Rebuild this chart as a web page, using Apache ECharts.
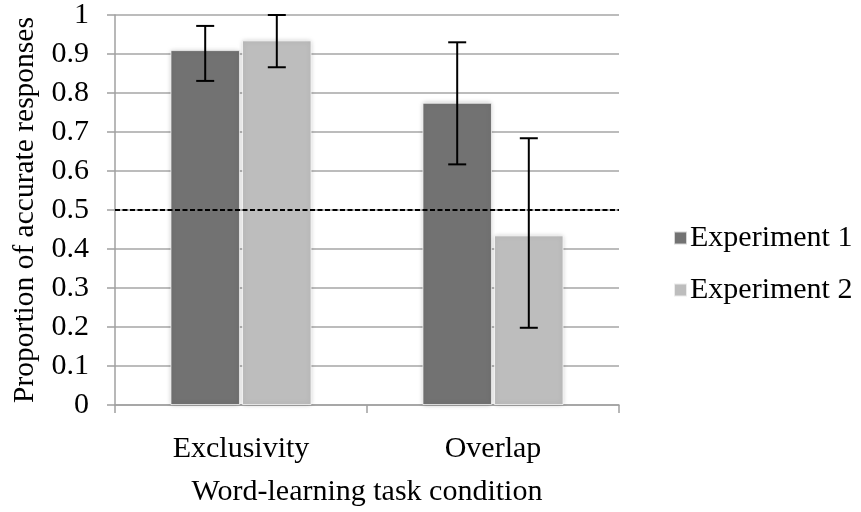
<!DOCTYPE html>
<html>
<head>
<meta charset="utf-8">
<script src="https://cdn.jsdelivr.net/npm/echarts@6/dist/echarts.min.js"></script>
<style>html,body{margin:0;padding:0;background:#fff}#c{width:861px;height:512px}</style>
</head>
<body>
<div id="c"></div>
<script>
var categories = ['Exclusivity', 'Overlap'];
var seriesNames = ['Experiment 1', 'Experiment 2'];
var exp1Values = [0.91, 0.775];
var exp2Values = [0.935, 0.435];
var exp1Low = [0.831, 0.617];
var exp1High = [0.972, 0.930];
var exp2Low = [0.866, 0.198];
var exp2High = [1.0, 0.684];
var yTicks = [0, 0.1, 0.2, 0.3, 0.4, 0.5, 0.6, 0.7, 0.8, 0.9, 1];
var chanceLevel = 0.5;

var FONT = 'Liberation Serif';
var FS = 30;
var CAT_GAP = 0.44, BAR_GAP = 0.03;
var colors = ['#727272', '#bdbdbd'];

function errSeries(idx, low, high) {
  var data = categories.map(function (c, i) { return [i, low[i], high[i]]; });
  return {
    type: 'custom',
    z: 10,
    silent: true,
    data: data,
    encode: { x: 0, y: [1, 2] },
    renderItem: function (params, api) {
      var ci = api.value(0);
      var lo = api.coord([ci, api.value(1)]);
      var hi = api.coord([ci, api.value(2)]);
      var band = api.size([1, 0])[0];
      var w = band * (1 - CAT_GAP) / (2 + BAR_GAP);
      var total = w * 2 + w * BAR_GAP;
      var cx = lo[0] - total / 2 + idx * w * (1 + BAR_GAP) + w / 2;
      var half = 9;
      var st = { stroke: '#000', lineWidth: 2 };
      return {
        type: 'group',
        children: [
          { type: 'line', shape: { x1: cx, y1: lo[1], x2: cx, y2: hi[1] }, style: st },
          { type: 'line', shape: { x1: cx - half, y1: lo[1], x2: cx + half, y2: lo[1] }, style: st },
          { type: 'line', shape: { x1: cx - half, y1: hi[1], x2: cx + half, y2: hi[1] }, style: st }
        ]
      };
    }
  };
}

var barStyle = function (c) {
  return { color: c, borderColor: 'rgba(255,255,255,0.7)', borderWidth: 1, shadowColor: 'rgba(0,0,0,0.22)', shadowBlur: 5 };
};

var chart = echarts.init(document.getElementById('c'));
chart.setOption({
  animation: false,
  textStyle: { fontFamily: FONT },
  grid: { left: 115, right: 242, top: 14.5, bottom: 106.5, containLabel: false },
  legend: {
    orient: 'vertical',
    left: 668,
    top: 218,
    itemWidth: 13,
    itemHeight: 13,
    itemGap: 22,
    icon: 'rect',
    data: seriesNames,
    textStyle: { fontFamily: FONT, fontSize: FS, color: '#000', padding: [0, 0, 0, -2] }
  },
  xAxis: {
    type: 'category',
    data: categories,
    name: 'Word-learning task condition',
    nameLocation: 'middle',
    nameGap: 72,
    nameTextStyle: { fontFamily: FONT, fontSize: FS, color: '#000' },
    axisLine: { show: true, lineStyle: { color: '#a0a0a0', width: 1.5 } },
    axisTick: { show: true, length: 8, lineStyle: { color: '#a0a0a0', width: 1.5 }, alignWithLabel: false },
    axisLabel: { fontFamily: FONT, fontSize: FS, color: '#000', margin: 29 }
  },
  yAxis: {
    type: 'value',
    min: 0,
    max: 1,
    interval: 0.1,
    name: 'Proportion of accurate responses',
    nameLocation: 'middle',
    nameGap: 71,
    nameTextStyle: { fontFamily: FONT, fontSize: 29.5, color: '#000' },
    axisLine: { show: true, lineStyle: { color: '#a0a0a0', width: 1.5 } },
    axisTick: { show: true, length: 8, lineStyle: { color: '#a0a0a0', width: 1.5 } },
    splitLine: { show: true, lineStyle: { color: '#a6a6a6', width: 1.5 } },
    axisLabel: {
      fontFamily: FONT, fontSize: FS, color: '#000', margin: 26,
      formatter: function (v) {
        var r = Math.round(v * 10) / 10;
        for (var i = 0; i < yTicks.length; i++) if (Math.abs(yTicks[i] - r) < 1e-9) return String(yTicks[i]);
        return '';
      }
    }
  },
  series: [
    {
      name: seriesNames[0], type: 'bar', data: exp1Values,
      barCategoryGap: (CAT_GAP * 100) + '%', barGap: (BAR_GAP * 100) + '%',
      itemStyle: barStyle(colors[0]),
      markLine: {
        silent: true, symbol: 'none', label: { show: false },
        lineStyle: { color: '#000', type: [5, 2.5], width: 1.8 },
        data: [{ yAxis: chanceLevel }]
      }
    },
    {
      name: seriesNames[1], type: 'bar', data: exp2Values,
      barCategoryGap: (CAT_GAP * 100) + '%', barGap: (BAR_GAP * 100) + '%',
      itemStyle: barStyle(colors[1])
    },
    errSeries(0, exp1Low, exp1High),
    errSeries(1, exp2Low, exp2High)
  ]
});
</script>
</body>
</html>
